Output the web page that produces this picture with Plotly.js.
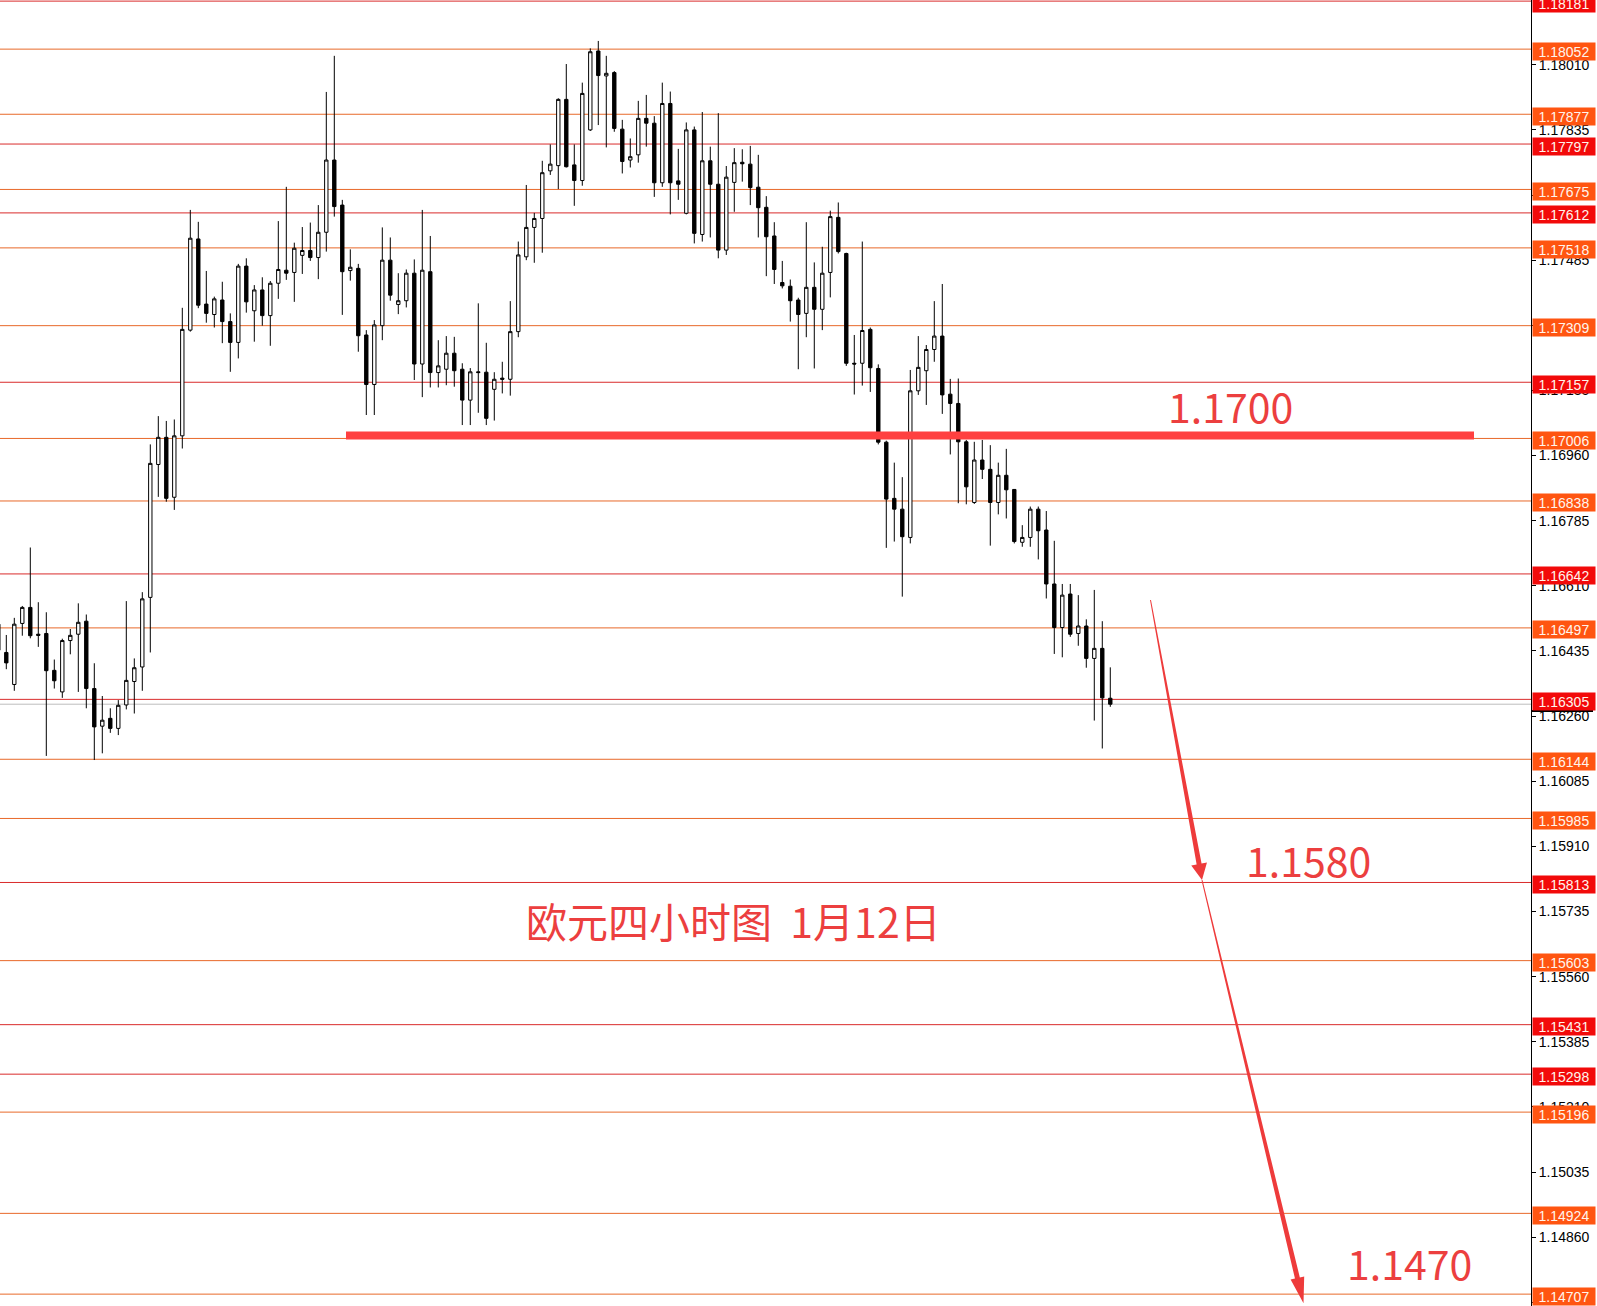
<!DOCTYPE html>
<html>
<head>
<meta charset="utf-8">
<script src="https://cdn.plot.ly/plotly-3.0.1.min.js"></script>
<style>
html,body{margin:0;padding:0;background:#fff;}
#chart{width:1597px;height:1306px;}
</style>
</head>
<body>
<div id="chart"></div>
<script>
// ---- EURUSD H4 candles ----
const opens = [1.16437,1.16431,1.16345,1.16509,1.16552,1.16480,1.16482,1.16383,1.16325,1.16463,
1.16480,1.16515,1.16334,1.16233,1.16254,1.16227,1.16290,1.16353,1.16392,1.16579,
1.16936,1.17009,1.16848,1.17013,1.17297,1.17542,1.17367,1.17339,1.17378,1.17320,
1.17264,1.17469,1.17349,1.17405,1.17336,1.17423,1.17458,1.17452,1.17498,1.17511,
1.17492,1.17560,1.17754,1.17633,1.17457,1.17463,1.17284,1.17151,1.17309,1.17485,
1.17366,1.17376,1.17450,1.17206,1.17454,1.17183,1.17192,1.17235,1.17192,1.17109,
1.17185,1.17184,1.17138,1.17168,1.17165,1.17293,1.17494,1.17573,1.17597,1.17725,
1.17739,1.17917,1.17741,1.17699,1.17835,1.18047,1.17980,1.17989,1.17837,1.17754,
1.17768,1.17866,1.17853,1.17693,1.17906,1.17698,1.17611,1.17835,1.17554,1.17752,
1.17689,1.17512,1.17694,1.17748,1.17743,1.17681,1.17627,1.17550,1.17425,1.17415,
1.17378,1.17342,1.17412,1.17353,1.17452,1.17600,1.17503,1.17208,1.17208,1.17299,
1.17194,1.16996,1.16845,1.16816,1.16740,1.17134,1.17188,1.17245,1.17281,1.17125,
1.17100,1.16997,1.16834,1.16948,1.16923,1.16834,1.16907,1.16869,1.16727,1.16740,
1.16816,1.16760,1.16615,1.16498,1.16588,1.16482,1.16502,1.16415,1.16442,1.16308];
const highs = [1.16531,1.16478,1.16524,1.16556,1.16713,1.16566,1.16539,1.16412,1.16468,1.16494,
1.16563,1.16533,1.16402,1.16314,1.16281,1.16303,1.16569,1.16415,1.16593,1.16990,
1.17066,1.17053,1.17057,1.17357,1.17620,1.17588,1.17456,1.17387,1.17427,1.17342,
1.17475,1.17490,1.17418,1.17439,1.17429,1.17590,1.17682,1.17532,1.17574,1.17586,
1.17633,1.17937,1.18034,1.17647,1.17514,1.17475,1.17297,1.17324,1.17573,1.17546,
1.17450,1.17460,1.17487,1.17620,1.17550,1.17270,1.17281,1.17279,1.17208,1.17195,
1.17369,1.17263,1.17184,1.17212,1.17375,1.17535,1.17687,1.17612,1.17752,1.17796,
1.17920,1.18012,1.17796,1.17962,1.18054,1.18074,1.18034,1.17993,1.17862,1.17812,
1.17913,1.17929,1.17872,1.17962,1.17938,1.17784,1.17855,1.17844,1.17883,1.17790,
1.17880,1.17738,1.17786,1.17783,1.17792,1.17768,1.17657,1.17587,1.17483,1.17433,
1.17384,1.17587,1.17479,1.17521,1.17618,1.17640,1.17505,1.17284,1.17535,1.17304,
1.17205,1.17000,1.16941,1.16902,1.17190,1.17281,1.17257,1.17375,1.17421,1.17166,
1.17167,1.17002,1.16997,1.17002,1.16988,1.16941,1.16978,1.16870,1.16773,1.16823,
1.16823,1.16811,1.16731,1.16615,1.16615,1.16585,1.16520,1.16599,1.16515,1.16391];
const lows = [1.16424,1.16386,1.16328,1.16476,1.16469,1.16446,1.16153,1.16334,1.16309,1.16426,
1.16325,1.16281,1.16142,1.16160,1.16215,1.16209,1.16278,1.16267,1.16328,1.16431,
1.16849,1.16836,1.16814,1.16979,1.17293,1.17356,1.17317,1.17304,1.17262,1.17185,
1.17221,1.17344,1.17266,1.17309,1.17255,1.17381,1.17432,1.17373,1.17448,1.17483,
1.17434,1.17508,1.17602,1.17338,1.17430,1.17239,1.17069,1.17069,1.17270,1.17376,
1.17340,1.17358,1.17163,1.17117,1.17143,1.17143,1.17149,1.17145,1.17042,1.17042,
1.17075,1.17042,1.17054,1.17127,1.17121,1.17278,1.17485,1.17478,1.17505,1.17714,
1.17676,1.17734,1.17631,1.17685,1.17832,1.17848,1.17788,1.17830,1.17718,1.17734,
1.17747,1.17790,1.17655,1.17682,1.17608,1.17647,1.17608,1.17530,1.17535,1.17546,
1.17490,1.17499,1.17615,1.17696,1.17633,1.17546,1.17442,1.17421,1.17409,1.17320,
1.17192,1.17278,1.17194,1.17297,1.17385,1.17503,1.17201,1.17124,1.17148,1.17131,
1.16990,1.16712,1.16729,1.16581,1.16724,1.17123,1.17096,1.17212,1.17072,1.16963,
1.16832,1.16829,1.16830,1.16897,1.16718,1.16802,1.16791,1.16724,1.16715,1.16715,
1.16681,1.16576,1.16427,1.16418,1.16473,1.16449,1.16390,1.16248,1.16173,1.16285];
const closes = [1.16507,1.16403,1.16507,1.16552,1.16476,1.16477,1.16382,1.16355,1.16463,1.16477,
1.16512,1.16334,1.16231,1.16249,1.16227,1.16289,1.16356,1.16390,1.16575,1.16939,
1.17009,1.16845,1.17013,1.17299,1.17544,1.17364,1.17342,1.17381,1.17320,1.17264,
1.17469,1.17373,1.17405,1.17336,1.17423,1.17460,1.17450,1.17517,1.17511,1.17492,
1.17560,1.17754,1.17629,1.17454,1.17466,1.17282,1.17151,1.17311,1.17485,1.17391,
1.17376,1.17450,1.17206,1.17458,1.17183,1.17201,1.17235,1.17188,1.17109,1.17185,
1.17183,1.17060,1.17165,1.17165,1.17293,1.17499,1.17573,1.17597,1.17720,1.17743,
1.17917,1.17736,1.17699,1.17933,1.18045,1.17981,1.17987,1.17839,1.17750,1.17763,
1.17866,1.17853,1.17693,1.17906,1.17693,1.17689,1.17835,1.17557,1.17752,1.17689,
1.17512,1.17708,1.17747,1.17744,1.17680,1.17626,1.17548,1.17460,1.17416,1.17376,
1.17339,1.17412,1.17353,1.17450,1.17602,1.17508,1.17208,1.17206,1.17296,1.17196,
1.16996,1.16843,1.16816,1.16742,1.17134,1.17197,1.17245,1.17281,1.17123,1.17100,
1.16997,1.16876,1.16948,1.16923,1.16834,1.16907,1.16868,1.16729,1.16740,1.16816,
1.16758,1.16615,1.16498,1.16585,1.16480,1.16502,1.16415,1.16442,1.16309,1.16292];

// ---- horizontal levels and their label colours ----
const redLevels = [1.18181,1.17797,1.17612,1.17157,1.16642,1.16305,1.15813,1.15431,1.15298];
const orangeLevels = [1.18052,1.17877,1.17675,1.17518,1.17309,1.17006,1.16838,1.16497,1.16144,1.15985,1.15603,1.15196,1.14924,1.14707];

// ---- axis ----
const yMin = 1.146751, yMax = 1.18184;
const tickStart = 1.18010, tickStep = 0.00175;

// ---- annotation text ----
const keyLevelText = "1.1700";
const keyLevel = 1.17014;
const target1Text = "1.1580";
const target2Text = "1.1470";
const chartTitle = "欧元四小时图&nbsp;&nbsp;1月12日";

// ---- styling ----
const W = 1597, H = 1306, R = 66;
const PW = W - R;
const RED_LINE = '#D92B2B', ORANGE_LINE = '#E8692A';
const RED_BOX = '#F20A0A', ORANGE_BOX = '#FF5511';
const ANN_RED = '#EC3F3F';

const idx = opens.map((_, i) => i);
const px2x = p => p / PW;
const py2y = p => 1 - p / H;

const shapes = [];
const annotations = [];

function addLevel(lvl, lineColor, boxColor) {
  shapes.push({type:'line', layer:'below', xref:'paper', x0:0, x1:1, yref:'y', y0:lvl, y1:lvl,
    line:{color:lineColor, width:1}});
  annotations.push({xref:'paper', x:1, xanchor:'left', xshift:1, yref:'y', y:lvl, yanchor:'middle', yshift:-2,
    text:lvl.toFixed(5), showarrow:false, bgcolor:boxColor, width:60, height:15, borderpad:1, align:'center',
    font:{family:'Liberation Sans, Arial, sans-serif', size:14, color:'#FFF4EC'}});
}
orangeLevels.forEach(l => addLevel(l, ORANGE_LINE, ORANGE_BOX));
redLevels.forEach(l => addLevel(l, RED_LINE, RED_BOX));

// bid line at last close
const lastClose = closes[closes.length - 1];
shapes.push({type:'line', layer:'below', xref:'paper', x0:0, x1:1, yref:'y', y0:lastClose, y1:lastClose,
  line:{color:'#BDBDBD', width:1}});
// marker on axis
shapes.push({type:'line', layer:'above', xref:'paper', x0:1, x1:1 + 62/PW, yref:'y', y0:lastClose - 0.00018, y1:lastClose - 0.00018,
  line:{color:'#000', width:2}});

// key level thick line
shapes.push({type:'line', layer:'above', xref:'paper', x0:px2x(346), x1:px2x(1474), yref:'y', y0:keyLevel, y1:keyLevel,
  line:{color:'#FF4040', width:8}});

// arrows (decorations, in pixel space)
function poly(pts) {
  return 'M ' + pts.map(p => px2x(p[0]).toFixed(5) + ',' + py2y(p[1]).toFixed(5)).join(' L ') + ' Z';
}
const arrow1 = [[1150.99,599.91],[1201.56,863.55],[1206.96,862.55],[1202,880],[1191.24,865.45],[1196.64,864.45],[1150.01,600.09]];
const arrow2 = [[1202.49,879.88],[1299.83,1277.42],[1304.2,1276.4],[1303.5,1303.3],[1290.6,1279.6],[1294.97,1278.58],[1201.51,880.12]];
[arrow1, arrow2].forEach(a => shapes.push({type:'path', layer:'above', xref:'paper', yref:'paper', path:poly(a),
  fillcolor:'#EE3B3B', line:{width:0}}));

function addText(t, cx, cy, size) {
  annotations.push({xref:'paper', yref:'paper', x:px2x(cx), y:py2y(cy), xanchor:'center', yanchor:'middle',
    text:t, showarrow:false, font:{family:'Noto Sans CJK SC, sans-serif', size:size, color:ANN_RED}});
}
addText(keyLevelText, 1230, 405, 41);
addText(target1Text, 1308, 859, 41);
addText(target2Text, 1409, 1262, 41);
addText(chartTitle, 733, 920, 41);

const trace = {
  type:'candlestick', x:idx, open:opens, high:highs, low:lows, close:closes,
  increasing:{line:{color:'#000', width:1}, fillcolor:'#FFFFFF'},
  decreasing:{line:{color:'#000', width:1}, fillcolor:'#000000'},
  whiskerwidth:0, hoverinfo:'skip', showlegend:false
};

const layout = {
  width:W, height:H,
  margin:{l:0, r:R, t:0, b:0, pad:0},
  paper_bgcolor:'#fff', plot_bgcolor:'#fff',
  showlegend:false, boxgap:0.4,
  xaxis:{type:'linear', range:[0.2125, 191.59], visible:false, rangeslider:{visible:false}, fixedrange:true, showgrid:false, zeroline:false},
  yaxis:{side:'right', range:[yMin, yMax], tick0:tickStart, dtick:tickStep, tickformat:'.5f',
    showgrid:false, zeroline:false, showline:true, linecolor:'#000', linewidth:1, automargin:false,
    ticks:'outside', ticklen:4, tickcolor:'#000', fixedrange:true,
    tickfont:{family:'Liberation Sans, Arial, sans-serif', size:14, color:'#000'}},
  shapes:shapes, annotations:annotations
};

Plotly.newPlot('chart', [trace], layout, {staticPlot:true, displayModeBar:false});
</script>
</body>
</html>
